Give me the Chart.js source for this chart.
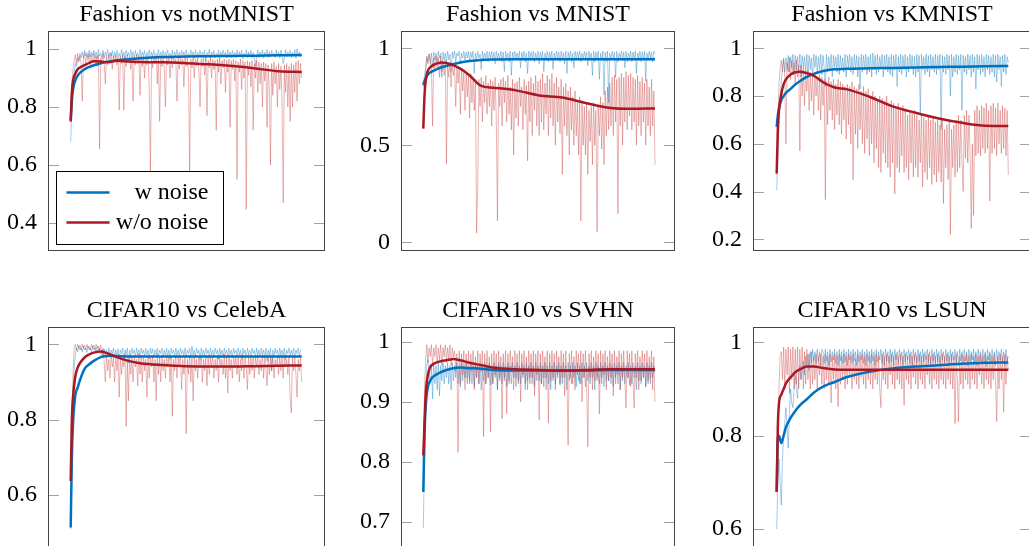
<!DOCTYPE html>
<html>
<head>
<meta charset="utf-8">
<script src="https://cdn.jsdelivr.net/npm/chart.js@4.4.1/dist/chart.umd.min.js"></script>
<style>
  html, body { margin: 0; padding: 0; background: #fff; overflow: hidden; width: 1029px; height: 546px; }
  canvas { position: absolute; }
</style>
</head>
<body>
<script>
// ---- data ----
const titles = ['Fashion vs notMNIST', 'Fashion vs MNIST', 'Fashion vs KMNIST',
                'CIFAR10 vs CelebA', 'CIFAR10 vs SVHN', 'CIFAR10 vs LSUN'];
const yTicks = [[0.4, 0.6, 0.8, 1], [0, 0.5, 1], [0.2, 0.4, 0.6, 0.8, 1],
                [0.6, 0.8, 1], [0.7, 0.8, 0.9, 1], [0.6, 0.8, 1]];
const seriesLabels = ['w noise', 'w/o noise'];

// epochs at which the smoothed curves were read (x runs 0..100)
const smoothX = [0, 0.5, 1, 2, 3, 4, 6, 8, 10, 13, 16, 20, 25, 30, 40, 50, 60, 70, 80, 90, 100];

// Fashion vs notMNIST
const b1n = [0.68, 0.8, 0.88, 0.92, 0.95, 0.94, 0.97, 0.955, 0.985, 0.97, 0.99, 0.968, 0.995, 0.975, 0.988, 0.97, 0.996, 0.972, 0.99, 0.978,
  0.995, 0.97, 0.99, 0.965, 0.998, 0.975, 0.985, 0.97, 0.995, 0.968, 0.99, 0.975, 0.998, 0.97, 0.988, 0.976, 0.995, 0.968, 0.99, 0.972,
  0.996, 0.975, 0.985, 0.97, 0.998, 0.972, 0.99, 0.965, 0.995, 0.976, 0.988, 0.97, 0.997, 0.974, 0.99, 0.968, 0.995, 0.975, 0.985, 0.97,
  0.998, 0.972, 0.99, 0.975, 0.995, 0.966, 0.988, 0.975, 0.997, 0.97, 0.99, 0.974, 0.996, 0.968, 0.985, 0.975, 0.998, 0.97, 0.99, 0.973,
  0.995, 0.968, 0.99, 0.976, 0.997, 0.97, 0.985, 0.974, 0.996, 0.965, 0.99, 0.975, 0.998, 0.97, 0.988, 0.972, 0.995, 0.976, 0.99, 0.968,
  0.997, 0.974, 0.985, 0.97, 0.996, 0.975, 0.99, 0.968, 0.998, 0.972, 0.988, 0.975, 0.995, 0.97, 0.99, 0.974, 0.996, 0.96, 0.988, 0.975,
  0.998, 0.97, 0.99, 0.975, 0.995, 0.968, 0.985, 0.976, 0.997, 0.97, 0.99, 0.972, 0.996, 0.975, 0.988, 0.968, 0.998, 0.974, 0.99, 0.97,
  0.995, 0.975, 0.988, 0.97, 0.997, 0.972, 0.99, 0.976, 0.996, 0.965, 0.985, 0.974, 0.998, 0.97, 0.99, 0.975, 0.995, 0.968, 0.988, 0.972,
  0.94, 0.975, 0.997, 0.97, 0.99, 0.974, 0.996, 0.968, 0.988, 0.975, 0.998, 0.97, 0.99, 0.972, 0.995, 0.976, 0.985, 0.97, 0.997, 0.974,
  0.99, 0.968, 0.996, 0.975, 0.95, 0.97, 0.998, 0.972, 0.99, 0.976, 0.995, 0.97, 0.988, 0.974, 0.997, 0.968, 1.0, 0.975, 0.99, 0.972,
  0.985];
const r1n = [0.75, 0.88, 0.93, 0.96, 0.98, 0.95, 0.985, 0.96, 0.975, 0.95, 0.82, 0.97, 0.985, 0.95, 0.98, 0.96, 0.985, 0.945, 0.98, 0.955,
  0.985, 0.95, 0.975, 0.94, 0.98, 0.655, 0.97, 0.955, 0.985, 0.95, 0.88, 0.975, 0.945, 0.98, 0.95, 0.985, 0.93, 0.975, 0.955, 0.98,
  0.945, 0.975, 0.79, 0.97, 0.95, 0.98, 0.79, 0.975, 0.94, 0.98, 0.955, 0.97, 0.93, 0.975, 0.82, 0.97, 0.945, 0.98, 0.95, 0.975,
  0.84, 0.97, 0.94, 0.975, 0.9, 0.97, 0.945, 0.975, 0.86, 0.58, 0.97, 0.935, 0.975, 0.95, 0.97, 0.88, 0.975, 0.75, 0.97, 0.94,
  0.975, 0.93, 0.80, 0.97, 0.945, 0.975, 0.9, 0.97, 0.935, 0.975, 0.95, 0.965, 0.82, 0.97, 0.93, 0.975, 0.945, 0.965, 0.87, 0.97,
  0.94, 0.97, 0.92, 0.58, 0.965, 0.935, 0.97, 0.9, 0.965, 0.94, 0.97, 0.925, 0.80, 0.965, 0.94, 0.97, 0.91, 0.965, 0.77, 0.96,
  0.935, 0.97, 0.9, 0.965, 0.93, 0.96, 0.72, 0.965, 0.92, 0.97, 0.88, 0.96, 0.935, 0.965, 0.85, 0.96, 0.92, 0.965, 0.73, 0.96,
  0.93, 0.965, 0.89, 0.96, 0.55, 0.955, 0.92, 0.965, 0.86, 0.96, 0.9, 0.955, 0.447, 0.96, 0.91, 0.955, 0.87, 0.96, 0.72, 0.95,
  0.9, 0.96, 0.85, 0.955, 0.88, 0.95, 0.8, 0.955, 0.89, 0.95, 0.73, 0.945, 0.86, 0.6, 0.95, 0.84, 0.955, 0.88, 0.94, 0.8,
  0.95, 0.86, 0.94, 0.82, 0.47, 0.945, 0.85, 0.95, 0.8, 0.94, 0.75, 0.95, 0.8, 0.945, 0.85, 0.955, 0.82, 0.96, 0.88, 0.95,
  0.9];
const b1s = [0.754, 0.82, 0.86, 0.892, 0.908, 0.918, 0.93, 0.938, 0.944, 0.951, 0.956,
  0.961, 0.965, 0.968, 0.972, 0.974, 0.975, 0.976, 0.977, 0.978, 0.979];
const r1s = [0.75, 0.85, 0.89, 0.915, 0.93, 0.936, 0.944, 0.952, 0.958, 0.957, 0.954,
  0.959, 0.957, 0.955, 0.954, 0.951, 0.947, 0.941, 0.933, 0.923, 0.921];

// Fashion vs MNIST
const b2n = [0.8, 0.86, 0.9, 0.95, 0.93, 0.97, 0.92, 0.975, 0.9, 0.98, 0.94, 0.975, 0.93, 0.985, 0.95, 0.975, 0.85, 0.98, 0.94, 0.975,
  0.93, 0.985, 0.94, 0.97, 0.88, 0.98, 0.95, 0.985, 0.93, 0.975, 0.96, 0.985, 0.92, 0.975, 0.95, 0.985, 0.94, 0.98, 0.95, 0.985,
  0.93, 0.98, 0.95, 0.985, 0.87, 0.975, 0.94, 0.985, 0.95, 0.97, 0.89, 0.985, 0.94, 0.975, 0.95, 0.985, 0.93, 0.98, 0.95, 0.985,
  0.94, 0.98, 0.92, 0.985, 0.95, 0.975, 0.94, 0.985, 0.93, 0.98, 0.88, 0.985, 0.95, 0.975, 0.93, 0.985, 0.86, 0.98, 0.94, 0.985,
  0.95, 0.975, 0.94, 0.985, 0.9, 0.98, 0.95, 0.985, 0.93, 0.975, 0.87, 0.985, 0.94, 0.98, 0.95, 0.985, 0.93, 0.975, 0.94, 0.985,
  0.92, 0.98, 0.95, 0.985, 0.88, 0.975, 0.94, 0.985, 0.93, 0.98, 0.95, 0.985, 0.89, 0.975, 0.94, 0.985, 0.95, 0.98, 0.93, 0.985,
  0.94, 0.975, 0.92, 0.985, 0.87, 0.98, 0.95, 0.985, 0.93, 0.975, 0.9, 0.985, 0.94, 0.98, 0.95, 0.985, 0.93, 0.975, 0.94, 0.985,
  0.95, 0.98, 0.91, 0.985, 0.94, 0.975, 0.86, 0.985, 0.93, 0.98, 0.95, 0.985, 0.84, 0.975, 0.94, 0.985, 0.76, 0.98, 0.93, 0.985,
  0.72, 0.975, 0.94, 0.985, 0.95, 0.98, 0.85, 0.985, 0.93, 0.975, 0.95, 0.985, 0.94, 0.98, 0.9, 0.985, 0.93, 0.975, 0.95, 0.985,
  0.93, 0.98, 0.94, 0.985, 0.87, 0.975, 0.95, 0.985, 0.93, 0.98, 0.94, 0.985, 0.83, 0.975, 0.94, 0.985, 0.95, 0.98, 0.93, 0.985,
  0.97];
const r2n = [0.6, 0.75, 0.88, 0.96, 0.92, 0.97, 0.94, 0.9, 0.6, 0.95, 0.88, 0.96, 0.9, 0.95, 0.85, 0.96, 0.88, 0.93, 0.86, 0.94,
  0.405, 0.92, 0.85, 0.93, 0.8, 0.92, 0.86, 0.9, 0.7, 0.91, 0.82, 0.9, 0.66, 0.89, 0.78, 0.88, 0.68, 0.87, 0.75, 0.86,
  0.64, 0.87, 0.72, 0.85, 0.68, 0.84, 0.048, 0.3, 0.84, 0.7, 0.85, 0.62, 0.83, 0.72, 0.86, 0.66, 0.82, 0.7, 0.84, 0.6,
  0.83, 0.68, 0.85, 0.64, 0.11, 0.82, 0.7, 0.84, 0.6, 0.85, 0.72, 0.83, 0.62, 0.86, 0.66, 0.8, 0.58, 0.84, 0.45, 0.82,
  0.64, 0.83, 0.6, 0.85, 0.7, 0.8, 0.58, 0.84, 0.66, 0.81, 0.42, 0.83, 0.62, 0.85, 0.55, 0.82, 0.68, 0.86, 0.6, 0.83,
  0.55, 0.84, 0.62, 0.87, 0.58, 0.82, 0.66, 0.86, 0.55, 0.84, 0.64, 0.87, 0.6, 0.82, 0.5, 0.85, 0.62, 0.8, 0.56, 0.84,
  0.35, 0.8, 0.6, 0.82, 0.55, 0.78, 0.45, 0.8, 0.58, 0.75, 0.5, 0.78, 0.55, 0.72, 0.45, 0.75, 0.11, 0.72, 0.5, 0.7,
  0.45, 0.72, 0.35, 0.68, 0.52, 0.7, 0.4, 0.72, 0.5, 0.68, 0.055, 0.7, 0.55, 0.75, 0.48, 0.72, 0.4, 0.78, 0.55, 0.8,
  0.58, 0.82, 0.6, 0.85, 0.55, 0.86, 0.62, 0.84, 0.147, 0.85, 0.6, 0.87, 0.5, 0.85, 0.62, 0.88, 0.58, 0.86, 0.65, 0.87,
  0.58, 0.85, 0.62, 0.84, 0.5, 0.86, 0.6, 0.83, 0.55, 0.85, 0.62, 0.82, 0.5, 0.84, 0.6, 0.8, 0.55, 0.84, 0.6, 0.78,
  0.4];
const b2s = [0.81, 0.83, 0.845, 0.865, 0.875, 0.882, 0.893, 0.902, 0.909, 0.919, 0.927,
  0.934, 0.94, 0.942, 0.943, 0.943, 0.943, 0.943, 0.943, 0.943, 0.943];
const r2s = [0.586, 0.75, 0.83, 0.885, 0.902, 0.912, 0.922, 0.927, 0.924, 0.912, 0.895,
  0.86, 0.806, 0.797, 0.783, 0.757, 0.746, 0.718, 0.694, 0.688, 0.69];

// Fashion vs KMNIST
const b3n = [0.405, 0.55, 0.7, 0.8, 0.86, 0.92, 0.95, 0.9, 0.96, 0.91, 0.97, 0.9, 0.965, 0.92, 0.975, 0.89, 0.97, 0.91, 0.965, 0.9,
  0.975, 0.88, 0.97, 0.92, 0.965, 0.9, 0.975, 0.89, 0.97, 0.91, 0.96, 0.88, 0.975, 0.92, 0.97, 0.9, 0.965, 0.91, 0.975, 0.89,
  0.97, 0.92, 0.84, 0.975, 0.9, 0.965, 0.91, 0.975, 0.88, 0.97, 0.92, 0.965, 0.9, 0.975, 0.89, 0.97, 0.91, 0.96, 0.9, 0.975,
  0.88, 0.97, 0.92, 0.975, 0.9, 0.965, 0.89, 0.975, 0.91, 0.97, 0.88, 0.965, 0.83, 0.975, 0.9, 0.97, 0.91, 0.975, 0.89, 0.965,
  0.9, 0.975, 0.88, 0.98, 0.91, 0.97, 0.89, 0.975, 0.9, 0.965, 0.92, 0.975, 0.88, 0.97, 0.91, 0.975, 0.9, 0.965, 0.89, 0.975,
  0.88, 0.97, 0.91, 0.975, 0.84, 0.965, 0.9, 0.975, 0.89, 0.97, 0.91, 0.975, 0.88, 0.965, 0.9, 0.975, 0.92, 0.97, 0.89, 0.965,
  0.88, 0.975, 0.9, 0.97, 0.72, 0.975, 0.91, 0.965, 0.89, 0.975, 0.9, 0.97, 0.88, 0.975, 0.91, 0.965, 0.9, 0.975, 0.89, 0.97,
  0.91, 0.975, 0.66, 0.97, 0.9, 0.965, 0.89, 0.975, 0.91, 0.97, 0.8, 0.975, 0.88, 0.965, 0.9, 0.975, 0.89, 0.97, 0.91, 0.975,
  0.74, 0.97, 0.9, 0.965, 0.89, 0.975, 0.91, 0.97, 0.88, 0.975, 0.9, 0.965, 0.83, 0.975, 0.91, 0.97, 0.89, 0.975, 0.9, 0.965,
  0.88, 0.975, 0.91, 0.97, 0.89, 0.965, 0.9, 0.975, 0.88, 0.97, 0.86, 0.975, 0.91, 0.965, 0.84, 0.97, 0.9, 0.975, 0.89, 0.965,
  0.94];
const r3n = [0.47, 0.7, 0.85, 0.92, 0.95, 0.9, 0.96, 0.88, 0.6, 0.94, 0.9, 0.96, 0.87, 0.95, 0.9, 0.94, 0.85, 0.95, 0.88, 0.93,
  0.57, 0.93, 0.8, 0.92, 0.76, 0.9, 0.82, 0.91, 0.74, 0.9, 0.78, 0.89, 0.72, 0.9, 0.8, 0.88, 0.74, 0.89, 0.7, 0.88,
  0.76, 0.87, 0.366, 0.86, 0.68, 0.88, 0.74, 0.86, 0.7, 0.87, 0.66, 0.85, 0.72, 0.87, 0.68, 0.86, 0.64, 0.85, 0.7, 0.84,
  0.62, 0.85, 0.68, 0.84, 0.6, 0.86, 0.45, 0.84, 0.64, 0.83, 0.58, 0.85, 0.66, 0.82, 0.6, 0.84, 0.56, 0.82, 0.62, 0.83,
  0.55, 0.8, 0.6, 0.82, 0.52, 0.8, 0.58, 0.78, 0.5, 0.8, 0.48, 0.79, 0.56, 0.78, 0.52, 0.8, 0.5, 0.76, 0.46, 0.78,
  0.52, 0.77, 0.39, 0.75, 0.5, 0.77, 0.48, 0.74, 0.55, 0.76, 0.48, 0.74, 0.5, 0.72, 0.45, 0.74, 0.52, 0.73, 0.46, 0.74,
  0.5, 0.72, 0.46, 0.7, 0.52, 0.72, 0.42, 0.71, 0.48, 0.7, 0.45, 0.72, 0.5, 0.7, 0.43, 0.71, 0.47, 0.69, 0.44, 0.7,
  0.48, 0.68, 0.44, 0.7, 0.35, 0.66, 0.5, 0.68, 0.45, 0.7, 0.22, 0.66, 0.5, 0.68, 0.46, 0.7, 0.48, 0.72, 0.5, 0.7,
  0.52, 0.4, 0.72, 0.54, 0.74, 0.52, 0.72, 0.56, 0.245, 0.6, 0.3, 0.74, 0.55, 0.76, 0.56, 0.74, 0.55, 0.76, 0.58, 0.75,
  0.56, 0.77, 0.58, 0.74, 0.36, 0.76, 0.56, 0.77, 0.58, 0.75, 0.55, 0.77, 0.6, 0.74, 0.56, 0.76, 0.58, 0.75, 0.55, 0.74,
  0.47];
const b3s = [0.671, 0.72, 0.75, 0.783, 0.8, 0.813, 0.83, 0.848, 0.862, 0.88, 0.893,
  0.905, 0.912, 0.914, 0.916, 0.918, 0.92, 0.922, 0.923, 0.925, 0.926];
const r3s = [0.476, 0.66, 0.74, 0.81, 0.85, 0.87, 0.89, 0.9, 0.902, 0.896, 0.885,
  0.858, 0.836, 0.829, 0.797, 0.757, 0.73, 0.706, 0.688, 0.676, 0.675];

// CIFAR10 vs CelebA
const b4n = [0.51, 0.7, 0.85, 0.94, 0.97, 0.99, 0.98, 0.995, 0.985, 0.99, 0.98, 0.995, 0.985, 0.99, 0.978, 0.995, 0.985, 0.99, 0.98, 0.995,
  0.985, 0.99, 0.98, 0.995, 0.985, 0.99, 0.975, 0.985, 0.97, 0.988, 0.965, 0.985, 0.972, 0.99, 0.968, 0.985, 0.975, 0.99, 0.965, 0.985,
  0.97, 0.988, 0.962, 0.985, 0.975, 0.99, 0.96, 0.985, 0.972, 0.99, 0.95, 0.985, 0.968, 0.99, 0.975, 0.985, 0.965, 0.99, 0.972, 0.985,
  0.965, 0.99, 0.975, 0.985, 0.968, 0.99, 0.972, 0.985, 0.962, 0.99, 0.975, 0.988, 0.965, 0.985, 0.972, 0.99, 0.968, 0.985, 0.975, 0.99,
  0.965, 0.985, 0.972, 0.99, 0.968, 0.985, 0.96, 0.99, 0.975, 0.985, 0.968, 0.99, 0.972, 0.985, 0.965, 0.99, 0.975, 0.985, 0.97, 0.99,
  0.965, 0.985, 0.975, 0.99, 0.968, 0.995, 0.972, 0.985, 0.965, 0.99, 0.975, 0.985, 0.96, 0.99, 0.972, 0.985, 0.968, 0.99, 0.975, 0.985,
  0.965, 0.99, 0.972, 0.985, 0.968, 0.99, 0.975, 0.985, 0.96, 0.99, 0.972, 0.985, 0.965, 0.99, 0.975, 0.985, 0.968, 0.99, 0.972, 0.985,
  0.965, 0.99, 0.975, 0.985, 0.968, 0.99, 0.972, 0.985, 0.96, 0.99, 0.975, 0.985, 0.965, 0.99, 0.972, 0.985, 0.968, 0.99, 0.975, 0.985,
  0.965, 0.99, 0.972, 0.985, 0.968, 0.99, 0.975, 0.985, 0.965, 0.99, 0.955, 0.985, 0.972, 0.99, 0.93, 0.985, 0.968, 0.99, 0.975, 0.985,
  0.965, 0.99, 0.972, 0.985, 0.968, 0.99, 0.96, 0.985, 0.975, 0.99, 0.968, 0.985, 0.972, 0.99, 0.965, 0.985, 0.975, 0.99, 0.97, 0.985,
  0.985];
const r4n = [0.64, 0.8, 0.92, 0.99, 1.0, 0.985, 1.0, 0.99, 0.998, 0.985, 1.0, 0.99, 0.998, 0.985, 1.0, 0.99, 0.995, 0.985, 1.0, 0.99,
  0.998, 0.985, 1.0, 0.99, 0.995, 0.985, 0.998, 0.97, 0.99, 0.95, 0.9, 0.97, 0.93, 0.96, 0.91, 0.975, 0.94, 0.965, 0.9, 0.97,
  0.93, 0.965, 0.86, 0.97, 0.92, 0.96, 0.94, 0.975, 0.782, 0.96, 0.85, 0.97, 0.92, 0.965, 0.9, 0.97, 0.94, 0.96, 0.89, 0.975,
  0.92, 0.965, 0.9, 0.97, 0.93, 0.96, 0.86, 0.97, 0.91, 0.965, 0.94, 0.97, 0.9, 0.96, 0.85, 0.975, 0.92, 0.965, 0.9, 0.97,
  0.93, 0.96, 0.91, 0.97, 0.94, 0.965, 0.9, 0.97, 0.809, 0.96, 0.93, 0.97, 0.91, 0.965, 0.94, 0.97, 0.88, 0.96, 0.92, 0.965,
  0.763, 0.96, 0.92, 0.97, 0.9, 0.965, 0.85, 0.97, 0.93, 0.96, 0.91, 0.965, 0.94, 0.97, 0.9, 0.96, 0.93, 0.965, 0.89, 0.97,
  0.92, 0.965, 0.94, 0.97, 0.91, 0.96, 0.93, 0.965, 0.9, 0.97, 0.94, 0.96, 0.92, 0.975, 0.91, 0.965, 0.87, 0.97, 0.93, 0.96,
  0.91, 0.97, 0.94, 0.965, 0.92, 0.97, 0.9, 0.96, 0.93, 0.975, 0.91, 0.965, 0.94, 0.88, 0.97, 0.92, 0.965, 0.93, 0.97, 0.91,
  0.965, 0.94, 0.97, 0.92, 0.96, 0.93, 0.975, 0.91, 0.965, 0.94, 0.89, 0.97, 0.92, 0.965, 0.93, 0.97, 0.91, 0.96, 0.94, 0.965,
  0.92, 0.97, 0.93, 0.965, 0.91, 0.97, 0.94, 0.96, 0.92, 0.97, 0.86, 0.818, 0.965, 0.93, 0.97, 0.92, 0.86, 0.96, 0.93, 0.965,
  0.9];
const b4s = [0.514, 0.7, 0.79, 0.865, 0.885, 0.905, 0.935, 0.947, 0.956, 0.966, 0.969,
  0.969, 0.968, 0.968, 0.968, 0.968, 0.968, 0.968, 0.968, 0.968, 0.968];
const r4s = [0.637, 0.8, 0.86, 0.915, 0.938, 0.95, 0.965, 0.973, 0.978, 0.981, 0.976,
  0.966, 0.956, 0.95, 0.945, 0.942, 0.941, 0.941, 0.942, 0.943, 0.944];

// CIFAR10 vs SVHN
const b5n = [0.69, 0.8, 0.9, 0.96, 0.97, 0.95, 0.93, 0.96, 0.905, 0.965, 0.93, 0.96, 0.92, 0.965, 0.91, 0.96, 0.935, 0.965, 0.93, 0.96,
  0.94, 0.965, 0.93, 0.96, 0.92, 0.965, 0.935, 0.96, 0.94, 0.965, 0.93, 0.96, 0.925, 0.965, 0.935, 0.96, 0.94, 0.965, 0.93, 0.96,
  0.935, 0.965, 0.93, 0.96, 0.925, 0.965, 0.94, 0.96, 0.93, 0.965, 0.92, 0.96, 0.935, 0.965, 0.93, 0.96, 0.94, 0.965, 0.928, 0.96,
  0.93, 0.965, 0.94, 0.96, 0.92, 0.965, 0.935, 0.96, 0.93, 0.965, 0.94, 0.96, 0.925, 0.965, 0.935, 0.96, 0.93, 0.965, 0.94, 0.96,
  0.925, 0.965, 0.935, 0.96, 0.93, 0.965, 0.94, 0.96, 0.92, 0.965, 0.935, 0.96, 0.93, 0.965, 0.94, 0.96, 0.925, 0.965, 0.935, 0.96,
  0.935, 0.965, 0.93, 0.96, 0.925, 0.965, 0.94, 0.96, 0.93, 0.965, 0.92, 0.96, 0.935, 0.965, 0.93, 0.96, 0.94, 0.965, 0.928, 0.96,
  0.93, 0.965, 0.94, 0.96, 0.92, 0.965, 0.935, 0.96, 0.93, 0.965, 0.94, 0.96, 0.925, 0.965, 0.935, 0.96, 0.93, 0.965, 0.94, 0.96,
  0.925, 0.965, 0.935, 0.96, 0.93, 0.965, 0.94, 0.96, 0.92, 0.965, 0.935, 0.96, 0.93, 0.965, 0.94, 0.96, 0.925, 0.965, 0.935, 0.96,
  0.935, 0.965, 0.93, 0.96, 0.925, 0.965, 0.94, 0.96, 0.93, 0.965, 0.92, 0.96, 0.935, 0.965, 0.93, 0.96, 0.94, 0.965, 0.928, 0.96,
  0.93, 0.965, 0.94, 0.96, 0.92, 0.965, 0.935, 0.96, 0.93, 0.965, 0.94, 0.96, 0.925, 0.965, 0.935, 0.96, 0.93, 0.965, 0.94, 0.96,
  0.95];
const r5n = [0.8, 0.92, 0.97, 0.995, 0.965, 0.99, 0.975, 0.995, 0.96, 0.99, 0.975, 0.995, 0.965, 0.99, 0.97, 0.995, 0.96, 0.99, 0.975, 0.995,
  0.965, 0.99, 0.97, 0.995, 0.96, 0.99, 0.975, 0.985, 0.95, 0.98, 0.816, 0.985, 0.93, 0.98, 0.945, 0.985, 0.92, 0.98, 0.94, 0.985,
  0.93, 0.98, 0.95, 0.985, 0.92, 0.975, 0.94, 0.985, 0.93, 0.98, 0.95, 0.985, 0.842, 0.98, 0.93, 0.985, 0.94, 0.975, 0.85, 0.98,
  0.93, 0.985, 0.945, 0.98, 0.92, 0.985, 0.94, 0.975, 0.872, 0.98, 0.935, 0.985, 0.88, 0.98, 0.93, 0.985, 0.95, 0.975, 0.92, 0.985,
  0.94, 0.98, 0.93, 0.985, 0.9, 0.98, 0.945, 0.985, 0.93, 0.975, 0.92, 0.985, 0.94, 0.98, 0.93, 0.985, 0.91, 0.98, 0.945, 0.985,
  0.87, 0.98, 0.93, 0.985, 0.94, 0.975, 0.92, 0.985, 0.865, 0.98, 0.935, 0.985, 0.94, 0.98, 0.92, 0.985, 0.945, 0.975, 0.93, 0.985,
  0.94, 0.98, 0.91, 0.985, 0.935, 0.828, 0.98, 0.94, 0.985, 0.93, 0.975, 0.92, 0.985, 0.945, 0.98, 0.93, 0.985, 0.9, 0.98, 0.94,
  0.985, 0.93, 0.825, 0.98, 0.94, 0.985, 0.92, 0.975, 0.935, 0.985, 0.94, 0.98, 0.88, 0.985, 0.93, 0.98, 0.945, 0.985, 0.92, 0.975,
  0.935, 0.985, 0.94, 0.98, 0.91, 0.985, 0.93, 0.975, 0.945, 0.985, 0.92, 0.98, 0.94, 0.985, 0.93, 0.89, 0.985, 0.94, 0.98, 0.925,
  0.985, 0.935, 0.89, 0.98, 0.94, 0.985, 0.92, 0.975, 0.935, 0.985, 0.94, 0.98, 0.925, 0.985, 0.93, 0.975, 0.94, 0.985, 0.92, 0.975,
  0.9];
const b5s = [0.75, 0.84, 0.89, 0.925, 0.935, 0.941, 0.946, 0.95, 0.953, 0.956, 0.957,
  0.956, 0.955, 0.953, 0.952, 0.952, 0.952, 0.952, 0.953, 0.953, 0.953];
const r5s = [0.811, 0.86, 0.91, 0.945, 0.958, 0.962, 0.966, 0.968, 0.969, 0.971, 0.969,
  0.965, 0.961, 0.957, 0.954, 0.953, 0.952, 0.953, 0.954, 0.954, 0.954];

// CIFAR10 vs LSUN
const b6n = [0.6, 0.7, 0.75, 0.7, 0.651, 0.75, 0.8, 0.83, 0.86, 0.82, 0.773, 0.85, 0.9, 0.87, 0.86, 0.9, 0.93, 0.9, 0.88, 0.93,
  0.95, 0.92, 0.94, 0.96, 0.93, 0.97, 0.95, 0.975, 0.94, 0.98, 0.955, 0.985, 0.96, 0.98, 0.955, 0.985, 0.96, 0.98, 0.95, 0.985,
  0.98, 0.955, 0.985, 0.96, 0.98, 0.95, 0.985, 0.958, 0.98, 0.962, 0.985, 0.955, 0.98, 0.95, 0.985, 0.96, 0.98, 0.955, 0.985, 0.958,
  0.98, 0.95, 0.985, 0.962, 0.98, 0.955, 0.985, 0.96, 0.98, 0.95, 0.985, 0.958, 0.98, 0.962, 0.985, 0.955, 0.98, 0.95, 0.985, 0.96,
  0.98, 0.955, 0.985, 0.96, 0.98, 0.95, 0.985, 0.958, 0.98, 0.962, 0.985, 0.955, 0.98, 0.95, 0.985, 0.96, 0.98, 0.955, 0.985, 0.958,
  0.98, 0.95, 0.985, 0.962, 0.98, 0.955, 0.985, 0.96, 0.98, 0.95, 0.985, 0.958, 0.98, 0.962, 0.985, 0.955, 0.98, 0.95, 0.985, 0.96,
  0.98, 0.955, 0.985, 0.96, 0.98, 0.95, 0.985, 0.958, 0.98, 0.962, 0.985, 0.955, 0.98, 0.95, 0.985, 0.96, 0.98, 0.955, 0.985, 0.958,
  0.98, 0.95, 0.985, 0.962, 0.98, 0.955, 0.985, 0.96, 0.98, 0.95, 0.985, 0.958, 0.98, 0.962, 0.985, 0.955, 0.98, 0.95, 0.985, 0.96,
  0.98, 0.955, 0.985, 0.96, 0.98, 0.95, 0.985, 0.958, 0.98, 0.962, 0.985, 0.955, 0.98, 0.95, 0.985, 0.96, 0.98, 0.955, 0.985, 0.958,
  0.98, 0.95, 0.985, 0.962, 0.98, 0.955, 0.985, 0.96, 0.98, 0.95, 0.985, 0.958, 0.98, 0.962, 0.985, 0.955, 0.98, 0.95, 0.985, 0.96,
  0.97];
const r6n = [0.7, 0.82, 0.9, 0.97, 0.98, 0.92, 0.99, 0.9, 0.985, 0.93, 0.99, 0.89, 0.985, 0.92, 0.99, 0.9, 0.985, 0.91, 0.99, 0.9,
  0.985, 0.92, 0.99, 0.9, 0.98, 0.91, 0.985, 0.92, 0.975, 0.9, 0.98, 0.91, 0.97, 0.92, 0.975, 0.9, 0.97, 0.93, 0.975, 0.91,
  0.97, 0.9, 0.975, 0.92, 0.97, 0.91, 0.975, 0.87, 0.97, 0.92, 0.975, 0.9, 0.97, 0.862, 0.975, 0.91, 0.97, 0.92, 0.975, 0.9,
  0.97, 0.91, 0.975, 0.93, 0.97, 0.9, 0.975, 0.92, 0.965, 0.91, 0.975, 0.9, 0.97, 0.925, 0.975, 0.91, 0.97, 0.9, 0.975, 0.92,
  0.97, 0.91, 0.975, 0.9, 0.97, 0.92, 0.975, 0.91, 0.97, 0.9, 0.86, 0.975, 0.92, 0.97, 0.91, 0.975, 0.9, 0.97, 0.93, 0.975,
  0.91, 0.97, 0.9, 0.975, 0.92, 0.97, 0.91, 0.975, 0.9, 0.97, 0.865, 0.975, 0.92, 0.97, 0.91, 0.975, 0.9, 0.97, 0.925, 0.975,
  0.91, 0.97, 0.9, 0.975, 0.92, 0.97, 0.91, 0.975, 0.9, 0.97, 0.93, 0.975, 0.91, 0.97, 0.9, 0.975, 0.92, 0.97, 0.91, 0.975,
  0.9, 0.97, 0.92, 0.975, 0.91, 0.97, 0.9, 0.975, 0.92, 0.97, 0.91, 0.975, 0.9, 0.97, 0.826, 0.975, 0.92, 0.83, 0.97, 0.91,
  0.975, 0.9, 0.97, 0.92, 0.975, 0.91, 0.97, 0.9, 0.975, 0.92, 0.97, 0.91, 0.975, 0.9, 0.97, 0.93, 0.975, 0.91, 0.97, 0.9,
  0.975, 0.92, 0.97, 0.91, 0.975, 0.9, 0.97, 0.92, 0.975, 0.91, 0.83, 0.97, 0.9, 0.975, 0.92, 0.97, 0.85, 0.975, 0.91, 0.97,
  0.94];
const b6s = [0.68, 0.8, 0.8, 0.784, 0.8, 0.818, 0.838, 0.853, 0.865, 0.878, 0.892,
  0.905, 0.915, 0.925, 0.937, 0.944, 0.948, 0.951, 0.954, 0.956, 0.957];
const r6s = [0.68, 0.82, 0.87, 0.888, 0.9, 0.912, 0.925, 0.936, 0.942, 0.948, 0.948,
  0.945, 0.942, 0.941, 0.941, 0.941, 0.941, 0.941, 0.941, 0.941, 0.941];

const noisyW = [b1n, b2n, b3n, b4n, b5n, b6n];
const noisyWo = [r1n, r2n, r3n, r4n, r5n, r6n];
const smoothW = [b1s, b2s, b3s, b4s, b5s, b6s];
const smoothWo = [r1s, r2s, r3s, r4s, r5s, r6s];

// ---- layout: plot box [left, top, right, bottom] in page pixels, axis ranges ----
const boxes = [[48, 31, 325, 251], [401, 31, 675, 251], [753, 31, 1031, 251],
               [48, 327, 325, 548], [401, 327, 675, 548], [753, 327, 1031, 548]];
const xRange = [[-9.83, 110.09], [-9.62, 108.63], [-10.23, 109.8]];
const yRange = [[0.3034, 1.062], [-0.0448, 1.089], [0.151, 1.0725],
                [0.4593, 1.046], [0.657, 1.0244], [0.5593, 1.0328]];

const SERIF = "'Liberation Serif', 'Times New Roman', serif";
const BLUE = '#0072bd', RED = '#aa1923';
const LIGHT_BLUE = 'rgba(0,114,189,0.36)', LIGHT_RED = 'rgba(200,60,60,0.38)';
const SIDE = 48, TITLE_H = 32;

function pts(xs, ys) { return ys.map((y, i) => ({ x: xs[i], y: y })); }

// fixed axis width, and no extra label padding above / below the plot
function fixAxis(s) {
  s.width = SIDE;
  s.paddingTop = 0; s.paddingBottom = 0;
}

const framePlugin = {
  id: 'frame',
  beforeDatasetsDraw(chart) {
    const { ctx, chartArea: a } = chart;
    const y = chart.scales.y;
    ctx.save();
    ctx.strokeStyle = '#a0a0a0';
    ctx.lineWidth = 1;
    ctx.beginPath();
    y.ticks.forEach(t => {
      const py = Math.round(y.getPixelForValue(t.value)) + 0.5;
      ctx.moveTo(a.left, py); ctx.lineTo(a.left + 11, py);
      ctx.moveTo(a.right - 11, py); ctx.lineTo(a.right, py);
    });
    ctx.stroke();
    ctx.restore();
  },
  afterDraw(chart) {
    const { ctx, chartArea: a } = chart;
    ctx.save();
    ctx.strokeStyle = '#444';
    ctx.lineWidth = 1;
    ctx.strokeRect(a.left + 0.5, a.top + 0.5, a.right - a.left - 1, a.bottom - a.top - 1);
    ctx.restore();
  }
};

// legend box inside the first panel, text right-aligned like the original
const boxLegend = {
  id: 'boxLegend',
  afterDraw(chart, args, opts) {
    if (!opts.show) return;
    const { ctx, chartArea: a } = chart;
    const items = chart.data.datasets.filter(d => d.label);
    const x0 = a.left + 8.5, y0 = a.bottom - 79.5;
    ctx.save();
    ctx.fillStyle = '#fff';
    ctx.fillRect(x0, y0, 167, 73);
    ctx.strokeStyle = '#000';
    ctx.lineWidth = 1;
    ctx.strokeRect(x0, y0, 167, 73);
    ctx.font = '24px ' + SERIF;
    ctx.textAlign = 'right';
    ctx.textBaseline = 'alphabetic';
    items.forEach((d, i) => {
      const ly = y0 + 21 + i * 30;
      ctx.strokeStyle = d.borderColor;
      ctx.lineWidth = 2.5;
      ctx.beginPath();
      ctx.moveTo(x0 + 10, ly); ctx.lineTo(x0 + 53, ly);
      ctx.stroke();
      ctx.fillStyle = '#000';
      ctx.fillText(d.label, x0 + 152, ly + 6);
    });
    ctx.restore();
  }
};

titles.forEach((title, k) => {
  const [L, T, R, B] = boxes[k];
  const canvas = document.createElement('canvas');
  const w = R - L + 2 * SIDE, h = B - T + TITLE_H;
  canvas.width = w; canvas.height = h;
  canvas.style.left = (L - SIDE) + 'px';
  canvas.style.top = (T - TITLE_H) + 'px';
  canvas.style.width = w + 'px'; canvas.style.height = h + 'px';
  document.body.appendChild(canvas);

  // noisy runs are evenly spaced over the same 0..100 range
  const noiseXW = noisyW[k].map((_, i) => i * 100 / (noisyW[k].length - 1));
  const noiseXWo = noisyWo[k].map((_, i) => i * 100 / (noisyWo[k].length - 1));
  const ticks = yTicks[k];

  new Chart(canvas.getContext('2d'), {
    type: 'line',
    data: {
      datasets: [
        { data: pts(noiseXW, noisyW[k]), borderColor: LIGHT_BLUE, borderWidth: 1, order: 3 },
        { data: pts(noiseXWo, noisyWo[k]), borderColor: LIGHT_RED, borderWidth: 1, order: 2 },
        { label: seriesLabels[0], data: pts(smoothX, smoothW[k]), borderColor: BLUE,
          borderWidth: 2.5, cubicInterpolationMode: 'monotone', order: 1 },
        { label: seriesLabels[1], data: pts(smoothX, smoothWo[k]), borderColor: RED,
          borderWidth: 2.5, cubicInterpolationMode: 'monotone', order: 0 }
      ]
    },
    options: {
      responsive: false,
      animation: false,
      devicePixelRatio: 1,
      layout: { padding: 0 },
      elements: { point: { radius: 0 }, line: { borderJoinStyle: 'round' } },
      scales: {
        x: { type: 'linear', display: false, min: xRange[k % 3][0], max: xRange[k % 3][1] },
        y: {
          min: yRange[k][0], max: yRange[k][1],
          afterFit: fixAxis,
          afterBuildTicks: s => { s.ticks = ticks.map(v => ({ value: v })); },
          grid: { display: false, drawTicks: false },
          border: { display: false },
          ticks: {
            autoSkip: false, padding: 11, color: '#000',
            font: { family: SERIF, size: 24 },
            callback: v => String(v)
          }
        },
        // empty right-hand axis, same width as the left one, keeps the title centred
        yRight: {
          position: 'right', min: 0, max: 1,
          afterFit: fixAxis,
          grid: { display: false, drawTicks: false },
          border: { display: false },
          ticks: { display: false }
        }
      },
      plugins: {
        legend: { display: false },
        tooltip: { enabled: false },
        title: {
          display: true, text: title, color: '#000',
          font: { family: SERIF, size: 24, weight: 'normal', lineHeight: 1.2 },
          padding: { top: 1, bottom: 2.2 }
        },
        boxLegend: { show: k === 0 }
      }
    },
    plugins: [framePlugin, boxLegend]
  });
});
</script>
</body>
</html>
